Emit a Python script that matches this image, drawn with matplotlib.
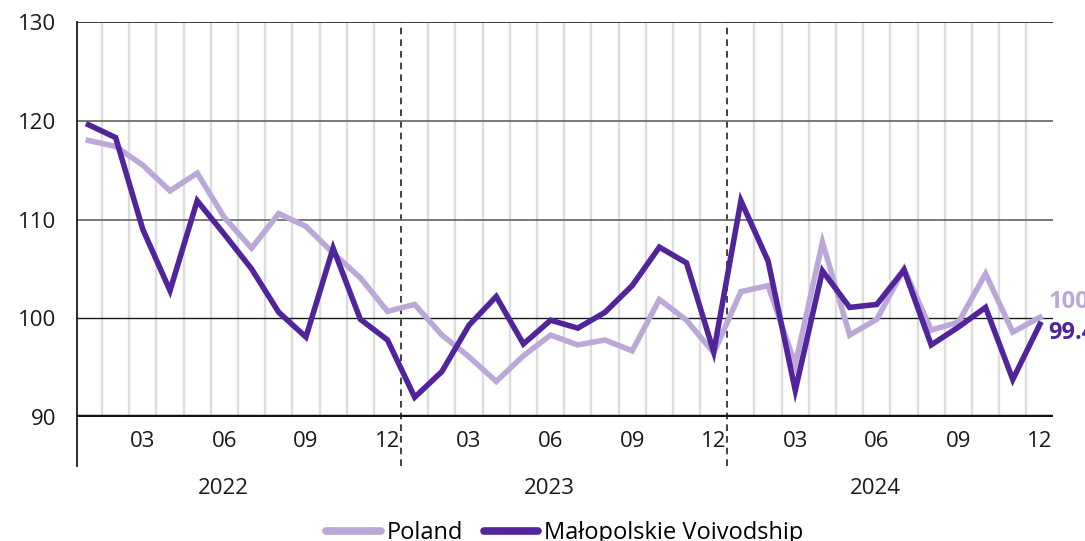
import numpy as np
import matplotlib
matplotlib.use('Agg')
import matplotlib.pyplot as plt
from matplotlib.lines import Line2D

plt.rcParams['font.family'] = ['Open Sans', 'DejaVu Sans']

# monthly index, Jan 2022 - Dec 2024
months = np.arange(36)
month_labels = ['03', '06', '09', '12'] * 3
month_ticks = [2, 5, 8, 11, 14, 17, 20, 23, 26, 29, 32, 35]
years = ['2022', '2023', '2024']

poland = [118.0, 117.4, 115.5, 112.9, 114.7, 110.2, 107.1, 110.6, 109.3, 106.6, 104.1, 100.7,
          101.4, 98.3, 96.1, 93.6, 96.2, 98.3, 97.3, 97.8, 96.7, 101.9, 99.8, 96.5,
          102.7, 103.3, 95.3, 107.7, 98.3, 99.9, 105.0, 98.8, 99.6, 104.5, 98.6, 100.1]
malopolska = [119.6, 118.3, 109.0, 102.8, 111.9, 108.5, 105.0, 100.6, 98.1, 107.1, 99.9, 97.8,
              92.0, 94.6, 99.3, 102.2, 97.4, 99.8, 99.0, 100.6, 103.3, 107.2, 105.6, 96.6,
              111.9, 105.8, 92.7, 104.8, 101.1, 101.4, 104.9, 97.3, 99.1, 101.1, 93.8, 99.4]

light = '#BBA7D8'
dark = '#51249B'

fig = plt.figure(figsize=(10.85, 5.41), dpi=100)
ax = fig.add_axes([0.071, 0.2292, 0.8995, 0.7301])

ax.set_xlim(-0.42, 35.48)
ax.set_ylim(90, 130)

# month separators
for b in np.arange(0.5, 35, 1):
    if b in (11.5, 23.5):
        continue
    ax.axvline(b, color='#DCDCDC', lw=1.7, zorder=1)

# year separators, running below the axis
ax.vlines([11.5, 23.5], 85, 130, colors='#222222', lw=1.2,
          linestyles=(0, (4, 3)), clip_on=False, zorder=2)

for v in (110, 120):
    ax.axhline(v, color='#6E6E6E', lw=1.3, zorder=2)
ax.axhline(100, color='#1A1A1A', lw=1.0, zorder=2)
ax.axhline(130, color='#1A1A1A', lw=1.2, zorder=2)
ax.axhline(90, color='#111111', lw=3.2, zorder=4)

ax.plot(months, poland, color=light, lw=4.0, solid_joinstyle='miter', zorder=5)
ax.plot(months, malopolska, color=dark, lw=4.0, solid_joinstyle='miter', zorder=6)

ax.annotate(f'{poland[-1]:.1f}', (35, poland[-1]), xytext=(6, 11), textcoords='offset points',
            color=light, fontsize=17, fontweight='bold', va='center', annotation_clip=False)
ax.annotate(f'{malopolska[-1]:.1f}', (35, malopolska[-1]), xytext=(6, -6), textcoords='offset points',
            color=dark, fontsize=17, fontweight='bold', va='center', annotation_clip=False)

for s in ('top', 'right', 'bottom'):
    ax.spines[s].set_visible(False)
ax.spines['left'].set_bounds(85, 130)
ax.spines['left'].set_linewidth(1.3)
ax.spines['left'].set_color('#1A1A1A')

ax.set_yticks([90, 100, 110, 120, 130])
ax.tick_params(axis='y', length=0, pad=15, labelsize=16, labelcolor='#1A1A1A')
ax.set_xticks(month_ticks)
ax.set_xticklabels(month_labels)
ax.tick_params(axis='x', length=0, pad=10, labelsize=16, labelcolor='#1A1A1A')

for k, yr in enumerate(years):
    ax.text(4.95 + 12 * k, -0.18, yr, transform=ax.get_xaxis_transform(),
            ha='center', va='center', fontsize=16, color='#1A1A1A')

handles = [Line2D([], [], color=light, lw=5.5, solid_capstyle='round'),
           Line2D([], [], color=dark, lw=5.5, solid_capstyle='round')]
fig.legend(handles, ['Poland', 'Małopolskie Voivodship'], loc='center',
           bbox_to_anchor=(0.5207, 0.014), ncol=2, frameon=False, fontsize=17,
           handlelength=2.3, handletextpad=0.25, columnspacing=0.9)

fig.savefig('out.png', dpi=100)
